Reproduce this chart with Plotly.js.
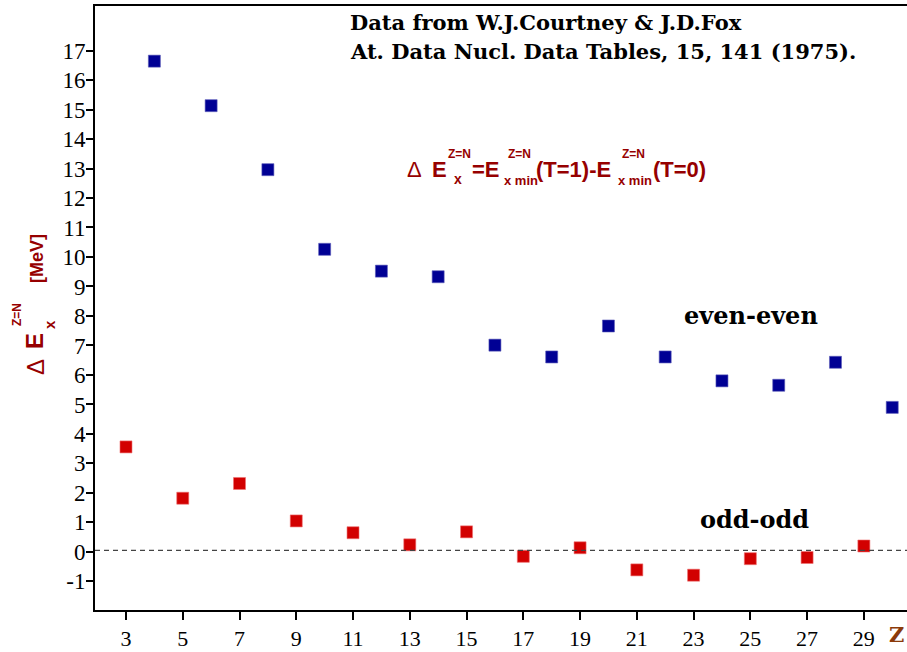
<!DOCTYPE html>
<html>
<head>
<meta charset="utf-8">
<script src="https://cdn.plot.ly/plotly-3.0.1.min.js"></script>
<style>html,body{margin:0;padding:0;background:#fff;}#chart{width:907px;height:652px;}</style>
</head>
<body>
<div id="chart"></div>
<script>
// Data
const zEvenEven = [4, 6, 8, 10, 12, 14, 16, 18, 20, 22, 24, 26, 28, 30];
const dEvenEven = [16.64, 15.13, 12.96, 10.26, 9.52, 9.33, 7.01, 6.61, 7.66, 6.61, 5.80, 5.65, 6.43, 4.90];
const zOddOdd = [3, 5, 7, 9, 11, 13, 15, 17, 19, 21, 23, 25, 27, 29];
const dOddOdd = [3.56, 1.82, 2.32, 1.05, 0.65, 0.24, 0.68, -0.15, 0.14, -0.61, -0.79, -0.23, -0.19, 0.20];
const xTickVals = [3, 5, 7, 9, 11, 13, 15, 17, 19, 21, 23, 25, 27, 29];
const yTickVals = [-1, 0, 1, 2, 3, 4, 5, 6, 7, 8, 9, 10, 11, 12, 13, 14, 15, 16, 17];
const zeroLevel = 0.05;

const W = 907, H = 652;
const M = {l: 95, r: 0, t: 6, b: 42};
const PW = W - M.l - M.r, PH = H - M.t - M.b;
function px(x) { return (x - M.l) / PW; }
function py(y) { return (H - M.b - y) / PH; }

const DR = '#960000';
const sans = 'Liberation Sans, Arial, sans-serif';
const serifB = 'DejaVu Serif, serif';
const serifR = 'Liberation Serif, Times New Roman, serif';

function piece(text, xl, yc, size, bold) {
  return {
    text: bold ? '<b>' + text + '</b>' : text,
    xref: 'paper', yref: 'paper', x: px(xl), y: py(yc),
    xanchor: 'left', yanchor: 'middle', showarrow: false,
    font: {family: sans, size: size, color: DR}
  };
}
function rpiece(text, xc, yc, size, bold) {
  return {
    text: bold ? '<b>' + text + '</b>' : text,
    xref: 'paper', yref: 'paper', x: px(xc), y: py(yc),
    xanchor: 'center', yanchor: 'middle', showarrow: false, textangle: -90,
    font: {family: sans, size: size, color: DR}
  };
}
function label(text, xc, yc, size, anchor, color) {
  return {
    text: '<b>' + text + '</b>', xref: 'paper', yref: 'paper', x: px(xc), y: py(yc),
    xanchor: anchor, yanchor: 'middle', showarrow: false,
    font: {family: serifB, size: size, color: color || '#000'}
  };
}

const annotations = [
  // header
  label('Data from W.J.Courtney &amp; J.D.Fox', 348, 22, 21, 'left'),
  label('At. Data Nucl. Data Tables, 15, 141 (1975).', 348, 52, 21, 'left'),
  // series labels
  label('even-even', 751, 315, 24, 'center'),
  label('odd-odd', 754, 519, 24, 'center'),
  // x axis label
  label('Z', 887, 634, 21, 'left', '#8b3a0a'),
  // formula
  piece('\u0394', 405, 169.5, 22, false),
  piece('E', 430, 169.5, 22, true),
  piece('Z=N', 446, 153.5, 12, true),
  piece('x', 452, 179, 14, true),
  piece('=E', 470, 169.5, 22, true),
  piece('Z=N', 506, 153.5, 12, true),
  piece('x min', 502, 180, 13, true),
  piece('(T=1)-E', 534, 169.5, 22, true),
  piece('Z=N', 620, 153.5, 12, true),
  piece('x min', 616, 180, 13, true),
  piece('(T=0)', 651, 169.5, 22, true),
  // y axis title (rotated)
  rpiece('\u0394', 35, 367, 24, false),
  rpiece('E', 34, 341, 24, true),
  rpiece('Z=N', 17, 315, 12, true),
  rpiece('x', 49, 325, 15, true),
  rpiece('[MeV]', 37, 259, 18, true)
];

const traces = [
  {x: zEvenEven, y: dEvenEven, type: 'scatter', mode: 'markers', name: 'even-even',
   marker: {symbol: 'square', size: 12, color: '#000094', line: {width: 0.6, color: '#5a5ab8'}}},
  {x: zOddOdd, y: dOddOdd, type: 'scatter', mode: 'markers', name: 'odd-odd',
   marker: {symbol: 'square', size: 12, color: '#d20000', line: {width: 0.6, color: '#ee7070'}}}
];

const layout = {
  width: W, height: H,
  margin: M,
  paper_bgcolor: '#fff', plot_bgcolor: '#fff',
  showlegend: false,
  xaxis: {
    range: [1.908, 30.52], tickvals: xTickVals, ticktext: xTickVals.map(String),
    showgrid: false, zeroline: false, showline: true, linecolor: '#000', linewidth: 2,
    mirror: true, ticks: 'outside', ticklen: 8, tickwidth: 2, tickcolor: '#000',
    tickfont: {family: serifR, size: 22, color: '#000'}
  },
  yaxis: {
    range: [-1.97, 18.51], tickvals: yTickVals, ticktext: yTickVals.map(String),
    showgrid: false, zeroline: false, showline: true, linecolor: '#000', linewidth: 2,
    ticks: 'outside', ticklen: 7, tickwidth: 2, tickcolor: '#000', ticklabelstandoff: -4,
    tickfont: {family: serifR, size: 23, color: '#000'}
  },
  shapes: [
    {type: 'line', xref: 'paper', yref: 'y', x0: 0, x1: 1, y0: zeroLevel, y1: zeroLevel,
     line: {color: '#444', width: 1.3, dash: '5px,4px'}}
  ],
  annotations: annotations
};

Plotly.newPlot('chart', traces, layout, {displayModeBar: false, staticPlot: true});
</script>
</body>
</html>
